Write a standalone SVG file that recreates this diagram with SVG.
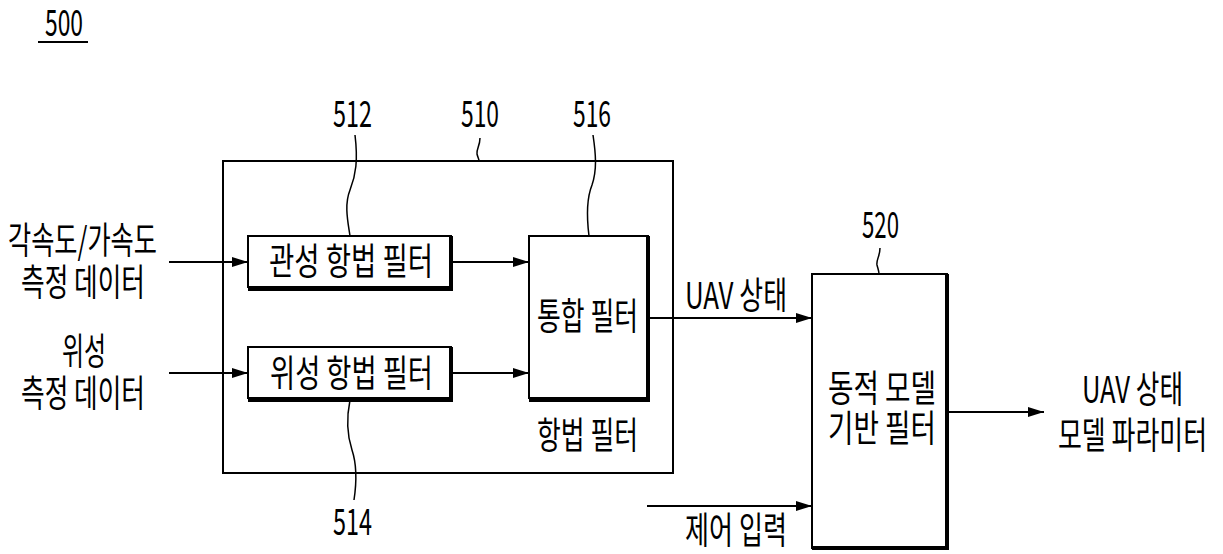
<svg xmlns="http://www.w3.org/2000/svg" width="1223" height="554" viewBox="0 0 1223 554">
<defs>
<style>
text{font-family:"Noto Sans CJK KR","Liberation Sans",sans-serif;font-size:37px;fill:#000;}
.box{fill:#fff;stroke:#000;stroke-width:2;}
.sh{fill:none;stroke:#000;stroke-width:4;}
.ln{fill:none;stroke:#000;stroke-width:2;}
.ld{fill:none;stroke:#000;stroke-width:1.5;}
</style>
<marker id="ah" viewBox="0 0 16 10" refX="16" refY="5" markerWidth="16" markerHeight="10" markerUnits="userSpaceOnUse" orient="auto">
<path d="M0,0 L16,5 L0,10 Z" fill="#000"/>
</marker>
</defs>
<rect width="1223" height="554" fill="#fff"/>
<g id="title">
<text x="45" y="36" textLength="38" lengthAdjust="spacingAndGlyphs">500</text>
<line x1="38" y1="42" x2="88" y2="42" stroke="#000" stroke-width="2"/>
</g>
<g id="n510">
<rect class="box" x="223" y="161" width="450" height="312"/>
<text x="537" y="449" textLength="101" lengthAdjust="spacingAndGlyphs">항법 필터</text>
<text x="461" y="127" textLength="38" lengthAdjust="spacingAndGlyphs">510</text>
<path class="ld" d="M480,138 C480,146 476,150 477,154 C478,158 479,159 479,161"/>
</g>
<g id="n512">
<rect class="box" x="248" y="236" width="203" height="51"/>
<path class="sh" d="M451,236 V289 H248"/>
<text x="269" y="275" textLength="164" lengthAdjust="spacingAndGlyphs">관성 항법 필터</text>
<text x="333" y="127" textLength="39" lengthAdjust="spacingAndGlyphs">512</text>
<path class="ld" d="M355,135 C358,160 356,175 350,190 C344,205 348,222 350,236"/>
</g>
<g id="n514">
<rect class="box" x="248" y="347" width="203" height="51"/>
<path class="sh" d="M451,347 V400 H248"/>
<text x="270" y="387" textLength="163" lengthAdjust="spacingAndGlyphs">위성 항법 필터</text>
<text x="333" y="535" textLength="39" lengthAdjust="spacingAndGlyphs">514</text>
<path class="ld" d="M350,400 C346,420 347,435 352,450 C357,465 357,480 354,500"/>
</g>
<g id="n516">
<rect class="box" x="529" y="236" width="119" height="162"/>
<path class="sh" d="M648,236 V400 H529"/>
<text x="537" y="330" textLength="101" lengthAdjust="spacingAndGlyphs">통합 필터</text>
<text x="573" y="127" textLength="38" lengthAdjust="spacingAndGlyphs">516</text>
<path class="ld" d="M593,135 C596,155 597,170 592,185 C586,200 587,220 589,236"/>
</g>
<g id="n520">
<rect class="box" x="812" y="274" width="135" height="274"/>
<path class="sh" d="M947,274 V548 H812"/>
<text x="828" y="402" textLength="108" lengthAdjust="spacingAndGlyphs">동적 모델</text>
<text x="828" y="442" textLength="108" lengthAdjust="spacingAndGlyphs">기반 필터</text>
<text x="862" y="238" textLength="37" lengthAdjust="spacingAndGlyphs">520</text>
<path class="ld" d="M880,248 C880,256 876,260 877,265 C878,269 879,271 879,274"/>
</g>
<g id="labels">
<text x="8" y="254" textLength="149" lengthAdjust="spacingAndGlyphs">각속도/가속도</text>
<text x="21" y="296" textLength="124" lengthAdjust="spacingAndGlyphs">측정 데이터</text>
<text x="62" y="365" textLength="44" lengthAdjust="spacingAndGlyphs">위성</text>
<text x="21" y="407" textLength="124" lengthAdjust="spacingAndGlyphs">측정 데이터</text>
<text x="685" y="309" textLength="102" lengthAdjust="spacingAndGlyphs">UAV 상태</text>
<text x="685" y="544" textLength="102" lengthAdjust="spacingAndGlyphs">제어 입력</text>
<text x="1082" y="403" textLength="101" lengthAdjust="spacingAndGlyphs">UAV 상태</text>
<text x="1058" y="449" textLength="149" lengthAdjust="spacingAndGlyphs">모델 파라미터</text>
</g>
<g id="connectors">
<line class="ln" x1="169" y1="262" x2="248" y2="262" marker-end="url(#ah)"/>
<line class="ln" x1="169" y1="373" x2="248" y2="373" marker-end="url(#ah)"/>
<line class="ln" x1="451" y1="262" x2="529" y2="262" marker-end="url(#ah)"/>
<line class="ln" x1="451" y1="373" x2="529" y2="373" marker-end="url(#ah)"/>
<line class="ln" x1="648" y1="318" x2="812" y2="318" marker-end="url(#ah)"/>
<line class="ln" x1="647" y1="506" x2="812" y2="506" marker-end="url(#ah)"/>
<line class="ln" x1="947" y1="412" x2="1044" y2="412" marker-end="url(#ah)"/>
</g>
</svg>
